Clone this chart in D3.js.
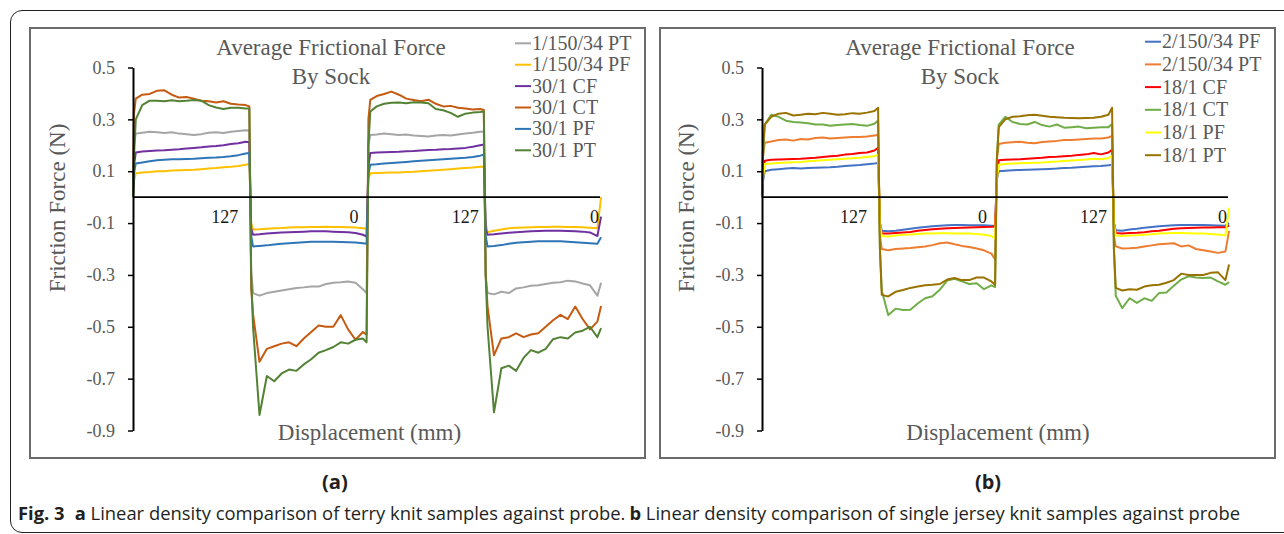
<!DOCTYPE html>
<html>
<head>
<meta charset="utf-8">
<script src="https://cdn.jsdelivr.net/npm/d3@7/dist/d3.min.js"></script>
<style>
  html, body { margin: 0; padding: 0; background: #fff; }
  svg { display: block; }
</style>
</head>
<body>
<svg id="chart" width="1284" height="534"></svg>
<script>
// ---------------- DATA ----------------
// displacement sample offsets (mm) inside each 127 mm stroke
const segOffsets = [1, 3, 10, 18, 26, 34, 42, 50, 58, 66, 74, 82, 90, 98, 106, 114, 122, 126];
const strokeLength = 127;
const strokeCount = 4;
const xTickValues = [127, 254, 381, 508];
const xTickLabels = ["127", "0", "127", "0"];
const yTickValues = [0.5, 0.3, 0.1, -0.1, -0.3, -0.5, -0.7, -0.9];

const titleLines = ["Average Frictional Force", "By Sock"];
const yAxisTitle = "Friction Force (N)";
const xAxisTitle = "Displacement (mm)";

// Panel (a) series
const namesA = ["1/150/34 PT", "1/150/34 PF", "30/1 CF", "30/1 CT", "30/1 PF", "30/1 PT"];
const colorsA = ["#A5A5A5", "#FFC000", "#7030A0", "#C55A11", "#2E75B6", "#548235"];
const a_150_34_PT = [0,
  0.20,0.245,0.248,0.252,0.25,0.247,0.25,0.245,0.243,0.24,0.243,0.248,0.25,0.247,0.252,0.255,0.258,0.257,
  -0.28,-0.37,-0.38,-0.37,-0.365,-0.36,-0.355,-0.35,-0.348,-0.345,-0.345,-0.335,-0.33,-0.328,-0.325,-0.33,-0.355,-0.37,
  0.20,0.24,0.242,0.245,0.243,0.24,0.242,0.238,0.236,0.234,0.238,0.24,0.238,0.242,0.245,0.248,0.252,0.253,
  -0.30,-0.37,-0.375,-0.365,-0.37,-0.352,-0.348,-0.342,-0.34,-0.335,-0.33,-0.328,-0.322,-0.325,-0.333,-0.34,-0.38,-0.33];
const a_150_34_PF = [0,
  0.06,0.092,0.095,0.097,0.10,0.10,0.103,0.104,0.105,0.106,0.108,0.11,0.112,0.115,0.117,0.12,0.125,0.128,
  -0.10,-0.125,-0.124,-0.122,-0.12,-0.119,-0.117,-0.116,-0.116,-0.115,-0.115,-0.114,-0.115,-0.115,-0.116,-0.117,-0.12,-0.122,
  0.07,0.092,0.093,0.094,0.095,0.095,0.097,0.098,0.10,0.102,0.104,0.106,0.108,0.11,0.112,0.114,0.117,0.118,
  -0.10,-0.135,-0.13,-0.125,-0.12,-0.118,-0.117,-0.116,-0.115,-0.115,-0.114,-0.114,-0.115,-0.115,-0.116,-0.118,-0.12,0.0];
const a_30_CF = [0,
  0.12,0.172,0.176,0.178,0.18,0.181,0.183,0.185,0.188,0.19,0.192,0.195,0.197,0.2,0.205,0.208,0.214,0.212,
  -0.12,-0.145,-0.143,-0.14,-0.138,-0.136,-0.135,-0.134,-0.133,-0.132,-0.132,-0.132,-0.133,-0.134,-0.135,-0.138,-0.145,-0.152,
  0.12,0.17,0.172,0.173,0.174,0.175,0.177,0.178,0.18,0.182,0.183,0.185,0.186,0.188,0.19,0.194,0.2,0.203,
  -0.12,-0.145,-0.143,-0.14,-0.137,-0.135,-0.133,-0.132,-0.131,-0.13,-0.13,-0.13,-0.131,-0.132,-0.133,-0.136,-0.15,-0.075];
const a_30_CT = [0,
  0.32,0.38,0.395,0.398,0.41,0.412,0.395,0.384,0.386,0.38,0.372,0.37,0.365,0.37,0.36,0.357,0.355,0.35,
  -0.35,-0.45,-0.635,-0.585,-0.575,-0.565,-0.56,-0.575,-0.545,-0.52,-0.495,-0.50,-0.50,-0.455,-0.51,-0.55,-0.52,-0.53,
  0.30,0.375,0.39,0.398,0.407,0.395,0.38,0.375,0.37,0.376,0.36,0.35,0.352,0.345,0.342,0.338,0.34,0.336,
  -0.30,-0.42,-0.61,-0.545,-0.54,-0.525,-0.54,-0.53,-0.525,-0.50,-0.475,-0.454,-0.47,-0.422,-0.47,-0.51,-0.48,-0.42];
const a_30_PF = [0,
  0.09,0.13,0.134,0.138,0.142,0.144,0.146,0.146,0.147,0.148,0.15,0.152,0.153,0.155,0.158,0.162,0.168,0.17,
  -0.15,-0.19,-0.188,-0.186,-0.183,-0.18,-0.178,-0.176,-0.174,-0.172,-0.172,-0.172,-0.172,-0.173,-0.174,-0.175,-0.178,-0.18,
  0.09,0.125,0.127,0.13,0.132,0.134,0.136,0.138,0.14,0.142,0.144,0.146,0.148,0.15,0.152,0.155,0.16,0.164,
  -0.15,-0.19,-0.188,-0.185,-0.18,-0.176,-0.174,-0.172,-0.17,-0.17,-0.17,-0.17,-0.172,-0.174,-0.176,-0.178,-0.18,-0.155];
const a_30_PT = [0,
  0.15,0.30,0.355,0.372,0.372,0.37,0.374,0.37,0.372,0.375,0.372,0.355,0.346,0.34,0.345,0.345,0.342,0.342,
  -0.30,-0.50,-0.84,-0.69,-0.71,-0.68,-0.665,-0.67,-0.645,-0.625,-0.60,-0.59,-0.578,-0.56,-0.565,-0.55,-0.545,-0.56,
  0.20,0.33,0.35,0.36,0.364,0.365,0.362,0.366,0.365,0.362,0.34,0.335,0.325,0.31,0.322,0.326,0.328,0.33,
  -0.30,-0.50,-0.83,-0.66,-0.65,-0.67,-0.62,-0.59,-0.60,-0.585,-0.548,-0.54,-0.545,-0.522,-0.515,-0.50,-0.54,-0.505];

// Panel (b) series
const namesB = ["2/150/34 PF", "2/150/34 PT", "18/1 CF", "18/1 CT", "18/1 PF", "18/1 PT"];
const colorsB = ["#4472C4", "#ED7D31", "#FF0000", "#70AD47", "#FFFF00", "#997300"];
const b_150_34_PF = [0,
  0.06,0.10,0.106,0.108,0.11,0.112,0.11,0.112,0.113,0.114,0.115,0.117,0.12,0.122,0.124,0.127,0.13,0.132,
  -0.10,-0.13,-0.132,-0.13,-0.126,-0.122,-0.118,-0.115,-0.112,-0.11,-0.108,-0.107,-0.107,-0.108,-0.108,-0.108,-0.11,-0.11,
  0.07,0.10,0.102,0.104,0.105,0.106,0.107,0.108,0.109,0.11,0.112,0.113,0.115,0.117,0.119,0.12,0.123,0.125,
  -0.10,-0.128,-0.13,-0.125,-0.122,-0.118,-0.115,-0.112,-0.11,-0.108,-0.107,-0.107,-0.107,-0.107,-0.108,-0.109,-0.11,-0.10];
const b_150_34_PT = [0,
  0.15,0.21,0.215,0.22,0.222,0.218,0.224,0.222,0.228,0.23,0.226,0.228,0.23,0.232,0.232,0.234,0.238,0.24,
  -0.15,-0.20,-0.205,-0.20,-0.198,-0.196,-0.193,-0.19,-0.185,-0.178,-0.175,-0.182,-0.188,-0.192,-0.198,-0.205,-0.218,-0.24,
  0.15,0.205,0.21,0.212,0.214,0.21,0.208,0.213,0.215,0.217,0.22,0.22,0.222,0.224,0.226,0.226,0.23,0.236,
  -0.15,-0.19,-0.198,-0.197,-0.195,-0.19,-0.186,-0.182,-0.18,-0.178,-0.19,-0.186,-0.20,-0.205,-0.21,-0.215,-0.21,-0.13];
const b_18_CF = [0,
  0.08,0.14,0.144,0.145,0.146,0.147,0.148,0.15,0.152,0.155,0.158,0.16,0.164,0.166,0.17,0.172,0.18,0.19,
  -0.10,-0.14,-0.14,-0.138,-0.136,-0.134,-0.13,-0.127,-0.124,-0.122,-0.12,-0.119,-0.118,-0.117,-0.116,-0.115,-0.114,-0.113,
  0.08,0.142,0.144,0.145,0.146,0.148,0.15,0.152,0.155,0.156,0.158,0.16,0.163,0.165,0.17,0.165,0.172,0.183,
  -0.10,-0.138,-0.14,-0.138,-0.137,-0.135,-0.132,-0.13,-0.126,-0.122,-0.12,-0.119,-0.118,-0.117,-0.117,-0.116,-0.116,-0.11];
const b_18_CT = [0,
  0.15,0.28,0.318,0.31,0.295,0.29,0.288,0.285,0.28,0.28,0.275,0.278,0.28,0.282,0.278,0.275,0.283,0.296,
  -0.20,-0.36,-0.455,-0.43,-0.435,-0.434,-0.41,-0.39,-0.382,-0.357,-0.322,-0.315,-0.325,-0.335,-0.332,-0.355,-0.34,-0.347,
  0.15,0.28,0.31,0.29,0.282,0.28,0.29,0.278,0.272,0.28,0.268,0.27,0.272,0.266,0.268,0.27,0.27,0.282,
  -0.20,-0.38,-0.428,-0.39,-0.408,-0.39,-0.40,-0.37,-0.368,-0.342,-0.318,-0.305,-0.31,-0.312,-0.31,-0.325,-0.338,-0.328];
const b_18_PF = [0,
  0.07,0.128,0.13,0.132,0.134,0.135,0.136,0.138,0.14,0.142,0.144,0.146,0.148,0.15,0.152,0.155,0.158,0.163,
  -0.10,-0.15,-0.152,-0.148,-0.145,-0.144,-0.142,-0.14,-0.14,-0.139,-0.139,-0.14,-0.14,-0.14,-0.142,-0.145,-0.15,-0.16,
  0.07,0.125,0.128,0.13,0.131,0.132,0.133,0.134,0.136,0.137,0.139,0.141,0.143,0.145,0.148,0.146,0.15,0.16,
  -0.10,-0.148,-0.15,-0.148,-0.147,-0.145,-0.143,-0.14,-0.139,-0.138,-0.138,-0.139,-0.14,-0.14,-0.142,-0.144,-0.148,-0.04];
const b_18_PT = [0,
  0.18,0.28,0.31,0.322,0.325,0.315,0.318,0.322,0.32,0.325,0.322,0.318,0.32,0.324,0.322,0.326,0.332,0.345,
  -0.20,-0.377,-0.383,-0.365,-0.358,-0.35,-0.345,-0.34,-0.338,-0.335,-0.318,-0.312,-0.32,-0.32,-0.31,-0.31,-0.325,-0.338,
  0.15,0.27,0.30,0.31,0.312,0.316,0.318,0.314,0.31,0.308,0.306,0.305,0.304,0.305,0.306,0.31,0.318,0.345,
  -0.20,-0.35,-0.36,-0.355,-0.357,-0.345,-0.34,-0.338,-0.33,-0.32,-0.295,-0.30,-0.30,-0.30,-0.292,-0.29,-0.32,-0.26];

const seriesA = [a_150_34_PT, a_150_34_PF, a_30_CF, a_30_CT, a_30_PF, a_30_PT];
const seriesB = [b_150_34_PF, b_150_34_PT, b_18_CF, b_18_CT, b_18_PF, b_18_PT];

const panelLabels = ["(a)", "(b)"];
const captionParts = [
  {t: "Fig. 3", b: true, gap: 10}, {t: "a", b: true, gap: 0},
  {t: " Linear density comparison of terry knit samples against probe.", b: false, gap: 4},
  {t: "b", b: true, gap: 0},
  {t: " Linear density comparison of single jersey knit samples against probe", b: false, gap: 0}
];

// ---------------- DRAW ----------------
const xs = [0];
for (let k = 0; k < strokeCount; k++) segOffsets.forEach(o => xs.push(k * strokeLength + o));

const svg = d3.select("#chart");
const SERIF = "'Liberation Serif', 'Times New Roman', serif";
const SANS = "'Open Sans', 'Noto Sans', sans-serif";
const GRAY = "#595959";

svg.append("rect").attr("width", 1284).attr("height", 534).attr("fill", "#fff");

// outer figure frame (rounded left corners, continues off right edge)
svg.append("path")
  .attr("d", "M1290,10.5 H22 A11.5,11.5 0 0 0 10.5,22 V521 A11.5,11.5 0 0 0 22,532.5 H1290")
  .attr("fill", "none").attr("stroke", "#231f20").attr("stroke-width", 1);

const panels = [
  {box: [30, 28, 645, 458], x0: 133, x1: 602, names: namesA, colors: colorsA, series: seriesA,
   legX: 515, legY0: 43.3, legDy: 21.4, cx: 331, label: panelLabels[0], labelX: 335, yTitleX: 65},
  {box: [660, 28, 1275, 458], x0: 762, x1: 1230, names: namesB, colors: colorsB, series: seriesB,
   legX: 1145, legY0: 41.7, legDy: 22.7, cx: 960, label: panelLabels[1], labelX: 988, yTitleX: 694}
];

panels.forEach(p => {
  const g = svg.append("g");
  const [bx0, by0, bx1, by1] = p.box;
  g.append("rect").attr("x", bx0).attr("y", by0).attr("width", bx1 - bx0).attr("height", by1 - by0)
    .attr("fill", "#fff").attr("stroke", "#6b6b6b").attr("stroke-width", 2);

  const x = d3.scaleLinear().domain([0, strokeCount * strokeLength]).range([p.x0, p.x1]);
  const y = d3.scaleLinear().domain([-0.9, 0.5]).range([430.5, 67.5]);
  const xLab = d3.scaleLinear().domain([0, strokeCount * strokeLength]).range([p.x0 - 15, p.x1 - 3]);

  // series lines
  const line = d3.line().x((d, i) => x(xs[i])).y(d => y(d));
  p.series.forEach((s, i) => {
    g.append("path").datum(s).attr("d", line)
      .attr("fill", "none").attr("stroke", p.colors[i]).attr("stroke-width", 2)
      .attr("stroke-linejoin", "round");
  });

  // x axis (at zero)
  const xAxis = d3.axisBottom(x).tickValues([]).tickSizeOuter(0);
  const xg = g.append("g").attr("transform", `translate(0,${y(0)})`).call(xAxis);
  xg.select(".domain").attr("stroke", "#000").attr("stroke-width", 1.6)
    .attr("d", `M${x(0)},0H${x(strokeCount * strokeLength) - 2}`);
  g.selectAll(null).data(xTickValues).enter().append("text")
    .attr("x", d => xLab(d)).attr("y", y(0) + 26)
    .attr("text-anchor", "end")
    .attr("font-family", SERIF).attr("font-size", 18).attr("fill", "#1a1a1a")
    .text((d, i) => xTickLabels[i]);

  // y axis
  const yAxis = d3.axisLeft(y).tickValues(yTickValues).tickSize(5).tickSizeOuter(0)
    .tickPadding(13).tickFormat(d => d.toFixed(1));
  const yg = g.append("g").attr("transform", `translate(${p.x0},0)`).call(yAxis);
  yg.select(".domain").attr("stroke", "#000").attr("stroke-width", 2);
  yg.selectAll(".tick line").attr("stroke", "#000").attr("stroke-width", 1.5);
  yg.selectAll(".tick text").attr("font-family", SERIF).attr("font-size", 18).attr("fill", GRAY);

  // titles
  titleLines.forEach((t, i) => {
    g.append("text").attr("x", p.cx).attr("y", 55 + i * 29).attr("text-anchor", "middle")
      .attr("font-family", SERIF).attr("font-size", 23).attr("fill", GRAY).text(t);
  });
  g.append("text").attr("transform", `translate(${p.yTitleX},208) rotate(-90)`)
    .attr("text-anchor", "middle").attr("font-family", SERIF).attr("font-size", 23)
    .attr("fill", GRAY).text(yAxisTitle);
  g.append("text").attr("x", (x(0) + x(508)) / 2 + 2).attr("y", 440).attr("text-anchor", "middle")
    .attr("font-family", SERIF).attr("font-size", 23).attr("fill", GRAY).text(xAxisTitle);

  // legend
  p.names.forEach((n, i) => {
    const ly = p.legY0 + i * p.legDy;
    g.append("line").attr("x1", p.legX).attr("x2", p.legX + 16).attr("y1", ly).attr("y2", ly)
      .attr("stroke", p.colors[i]).attr("stroke-width", 2);
    g.append("text").attr("x", p.legX + 17).attr("y", ly + 6.5)
      .attr("font-family", SERIF).attr("font-size", 20).attr("fill", GRAY).text(n);
  });

  // panel label
  svg.append("text").attr("x", p.labelX).attr("y", 489).attr("text-anchor", "middle")
    .attr("font-family", SANS).attr("font-weight", "bold").attr("font-size", 19)
    .attr("fill", "#231f20").attr("textLength", 26).attr("lengthAdjust", "spacingAndGlyphs")
    .text(p.label);
});

// caption: separate text pieces, measured then condensed to fit the reference width
const capX0 = 18, capX1 = 1240, capY = 520, capSize = 18.5;
const pieces = captionParts.map(c => {
  const t = svg.append("text").attr("y", capY)
    .attr("font-family", SANS).attr("font-size", capSize).attr("fill", "#231f20")
    .attr("font-weight", c.b ? "bold" : "normal").style("white-space", "pre").text(c.t);
  return {node: t, w: t.node().getComputedTextLength(), gap: c.gap};
});
const totalGap = d3.sum(pieces, p => p.gap);
const k = (capX1 - capX0 - totalGap) / d3.sum(pieces, p => p.w);
let cx = capX0;
pieces.forEach(p => {
  const w = p.w * k;
  p.node.attr("x", cx).attr("textLength", w).attr("lengthAdjust", "spacingAndGlyphs");
  cx += w + p.gap;
});
</script>
</body>
</html>
